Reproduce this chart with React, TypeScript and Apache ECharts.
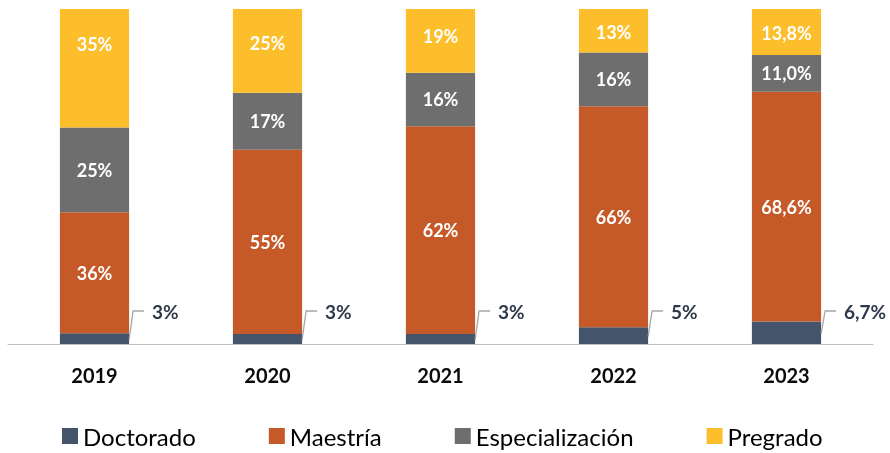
import React, { useEffect, useRef } from "react";
import * as echarts from "echarts";

const years = ["2019", "2020", "2021", "2022", "2023"];
const doctorado = [3.2, 3, 3, 5, 6.7];
const maestria = [36.1, 55, 62, 66, 68.6];
const especializacion = [25.3, 17, 16, 16, 11.0];
const pregrado = [35.4, 25, 19, 13, 13.8];
const labelDecimals = [0, 0, 0, 0, 1];
// vertical nudge of the Pregrado labels (as placed in the original chart)
const pregradoLabelDy = [-24, -8, -5, 1, 1];

const colors = {
  doctorado: "#44546A",
  maestria: "#C55A28",
  especializacion: "#6E6E6E",
  pregrado: "#FDBE2B",
};

const FONT = "Lato";

function fmt(v: number, i: number) {
  return v.toFixed(labelDecimals[i]).replace(".", ",") + "%";
}

export default function App() {
  const ref = useRef<HTMLDivElement>(null);
  useEffect(() => {
    if (!ref.current) return;
    const chart = echarts.init(ref.current, undefined, { renderer: "svg" });
    const innerLabel = {
      show: true,
      position: "inside",
      color: "#FFFFFF",
      fontFamily: FONT,
      fontWeight: "bold",
      fontSize: 18,
      formatter: (p: any) => fmt(p.value, p.dataIndex),
    };
    const bar = (name: string, data: any[], color: string, label: any) => ({
      name,
      type: "bar",
      stack: "total",
      barWidth: "40%",
      data,
      itemStyle: { color },
      label,
    });
    const pregradoData = pregrado.map((v, i) => ({
      value: v,
      label: { offset: [0, pregradoLabelDy[i]] },
    }));
    chart.setOption({
      animation: false,
      textStyle: { fontFamily: FONT },
      grid: { left: 8, right: 17, top: 9, bottom: 109, containLabel: false },
      legend: {
        data: ["Doctorado", "Maestría", "Especialización", "Pregrado"],
        left: 62,
        top: 424,
        padding: 0,
        icon: "rect",
        itemWidth: 16,
        itemHeight: 16,
        itemGap: 73,
        textStyle: { fontFamily: FONT, fontSize: 24, color: "#000000", padding: [0, 0, 0, 0] },
      },
      xAxis: {
        type: "category",
        data: years,
        axisLine: { lineStyle: { color: "#BFBFBF", width: 1 } },
        axisTick: { show: false },
        axisLabel: {
          margin: 21,
          fontFamily: FONT,
          fontWeight: "bold",
          fontSize: 20,
          color: "#0A0A0A",
        },
      },
      yAxis: {
        type: "value",
        min: 0,
        max: 100,
        show: false,
        splitLine: { show: false },
      },
      series: [
        bar("Doctorado", doctorado, colors.doctorado, { show: false }),
        bar("Maestría", maestria, colors.maestria, innerLabel),
        bar("Especialización", especializacion, colors.especializacion, innerLabel),
        bar("Pregrado", pregradoData, colors.pregrado, innerLabel),
        {
          name: "doctoradoLabels",
          type: "custom",
          data: doctorado.map((v, i) => [i, v]),
          encode: { x: 0, y: 1 },
          silent: true,
          z: 5,
          renderItem: (params: any, api: any) => {
            const i = api.value(0);
            const v = api.value(1);
            const top = api.coord([i, v]);
            const base = api.coord([i, 0]);
            const bw = api.size([1, 0])[0] * 0.4;
            const right = top[0] + bw / 2;
            const midY = (top[1] + base[1]) / 2 + 1;
            const elbowY = base[1] - 33;
            return {
              type: "group",
              children: [
                {
                  type: "polyline",
                  shape: {
                    points: [
                      [right, midY],
                      [right + 4, elbowY],
                      [right + 15, elbowY],
                    ],
                  },
                  style: { stroke: "#A6A6A6", lineWidth: 1.3, fill: "none" },
                },
                {
                  type: "text",
                  x: right + 23,
                  y: elbowY,
                  style: {
                    text: fmt(v, i),
                    fontFamily: FONT,
                    fontWeight: "bold",
                    fontSize: 19,
                    fill: "#2E3A4C",
                    verticalAlign: "middle",
                    align: "left",
                  },
                },
              ],
            };
          },
        },
      ],
    });
    return () => chart.dispose();
  }, []);
  return (
    <div
      ref={ref}
      style={{ position: "fixed", left: 0, top: 0, width: 890, height: 453 }}
    />
  );
}
